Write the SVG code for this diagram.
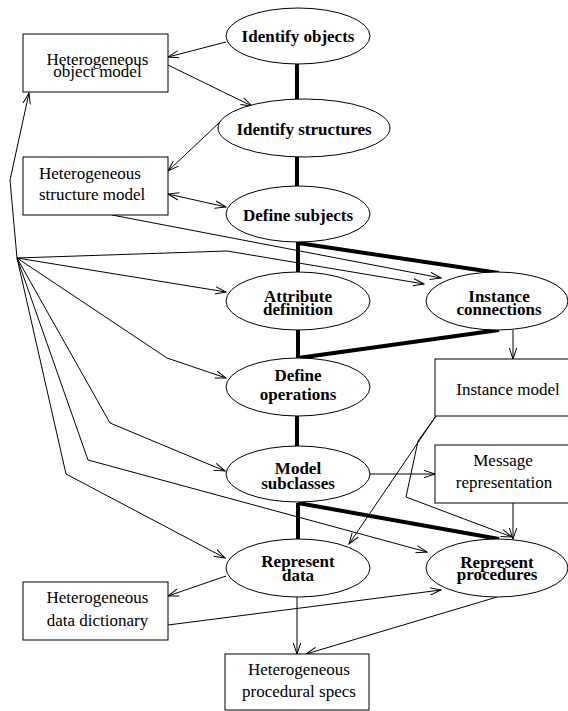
<svg xmlns="http://www.w3.org/2000/svg" width="568" height="711" viewBox="0 0 568 711">
<style>
.n ellipse, .n rect { fill: #fff; stroke: #000; stroke-width: 1; }
.b { font-family: "Liberation Serif", "Times New Roman", serif; font-weight: bold; font-size: 17px; text-anchor: middle; fill: #000; }
.r { font-family: "Liberation Serif", "Times New Roman", serif; font-size: 17px; text-anchor: middle; fill: #000; }
.t { fill: none; stroke: #000; stroke-width: 1; marker-end: url(#a); }
.k { fill: none; stroke: #000; stroke-width: 4; }
</style>
<defs>
<marker id="a" markerWidth="12" markerHeight="9" refX="11" refY="4.5" orient="auto-start-reverse" markerUnits="userSpaceOnUse">
<path d="M0,0.8 L11,4.5 L0,8.2" fill="none" stroke="#000" stroke-width="1"/>
</marker>
</defs>
<rect width="568" height="711" fill="#fff"/>
<g id="connectors">
<!-- thick -->
<path class="k" d="M297,64 V99"/>
<path class="k" d="M297,157 V186"/>
<path class="k" d="M298,242 V273 M298,243 L499,273"/>
<path class="k" d="M298,330 V358 M298,358 L499,330"/>
<path class="k" d="M297,416 V446"/>
<path class="k" d="M298,503 V539 M298,503 L499,539"/>
<!-- thin -->
<path class="t" d="M226,42 L168,57"/>
<path class="t" d="M168,65 L252,106"/>
<path class="t" d="M221,121 L168,171"/>
<path class="t" d="M168,194 L226,207" style="marker-start:url(#a)"/>
<path class="t" d="M112,215 L441,278"/>
<path class="t" d="M17,258 L227,251 L424,284"/>
<path class="t" d="M17,258 L10,180 L29,93"/>
<path class="t" d="M17,258 L226,292"/>
<path class="t" d="M17,258 L167,358 L226,378"/>
<path class="t" d="M17,258 L110,423 L225,471"/>
<path class="t" d="M17,258 L88,460 L427,552"/>
<path class="t" d="M17,258 L66,474 L225,558"/>
<path class="t" d="M513,330 V359"/>
<path class="t" d="M436,416 L349,544"/>
<path class="t" d="M436,416 L418,441 L406,497 L512,537"/>
<path class="t" d="M513,503 V539"/>
<path class="t" d="M370,474 L435,474"/>
<path class="t" d="M226,576 L168,596"/>
<path class="t" d="M168,625 L441,590"/>
<path class="t" d="M297,597 V654"/>
<path class="t" d="M497,597 L306,654"/>
</g>
<g id="identify-objects" class="n"><ellipse cx="298" cy="36" rx="72" ry="28"/><text class="b" x="298" y="42">Identify objects</text></g>
<g id="identify-structures" class="n"><ellipse cx="304" cy="128" rx="86" ry="29"/><text class="b" x="304" y="135">Identify structures</text></g>
<g id="define-subjects" class="n"><ellipse cx="298" cy="214" rx="72" ry="28"/><text class="b" x="298" y="221">Define subjects</text></g>
<g id="attribute-definition" class="n"><ellipse cx="298" cy="301" rx="72" ry="29"/><text class="b" x="298" y="302">Attribute</text><text class="b" x="298" y="315">definition</text></g>
<g id="instance-connections" class="n"><ellipse cx="497" cy="301" rx="71" ry="29"/><text class="b" x="499" y="302">Instance</text><text class="b" x="499" y="315">connections</text></g>
<g id="define-operations" class="n"><ellipse cx="298" cy="387" rx="72" ry="29"/><text class="b" x="298" y="381">Define</text><text class="b" x="298" y="400">operations</text></g>
<g id="model-subclasses" class="n"><ellipse cx="298" cy="474" rx="72" ry="28"/><text class="b" x="298" y="474">Model</text><text class="b" x="298" y="489">subclasses</text></g>
<g id="represent-data" class="n"><ellipse cx="298" cy="568" rx="72" ry="29"/><text class="b" x="298" y="567">Represent</text><text class="b" x="298" y="581">data</text></g>
<g id="represent-procedures" class="n"><ellipse cx="497" cy="568" rx="71" ry="29"/><text class="b" x="497" y="568">Represent</text><text class="b" x="497" y="580">procedures</text></g>
<g id="het-object-model" class="n"><rect x="23" y="34" width="145" height="58"/><text class="r" x="97.5" y="65">Heterogeneous</text><text class="r" x="97.5" y="77">object model</text></g>
<g id="het-structure-model" class="n"><rect x="23" y="157" width="145" height="58"/><text class="r" x="39" y="179" style="text-anchor:start">Heterogeneous</text><text class="r" x="39" y="200" style="text-anchor:start">structure model</text></g>
<g id="instance-model" class="n"><rect x="435" y="359" width="150" height="57"/><text class="r" x="508" y="395">Instance model</text></g>
<g id="message-representation" class="n"><rect x="435" y="445" width="150" height="58"/><text class="r" x="503" y="466">Message</text><text class="r" x="504" y="488">representation</text></g>
<g id="het-data-dictionary" class="n"><rect x="23" y="582" width="145" height="58"/><text class="r" x="97.5" y="603">Heterogeneous</text><text class="r" x="97.5" y="626">data dictionary</text></g>
<g id="het-procedural-specs" class="n"><rect x="225" y="654" width="144" height="56"/><text class="r" x="299" y="675">Heterogeneous</text><text class="r" x="299" y="697">procedural specs</text></g>
</svg>
